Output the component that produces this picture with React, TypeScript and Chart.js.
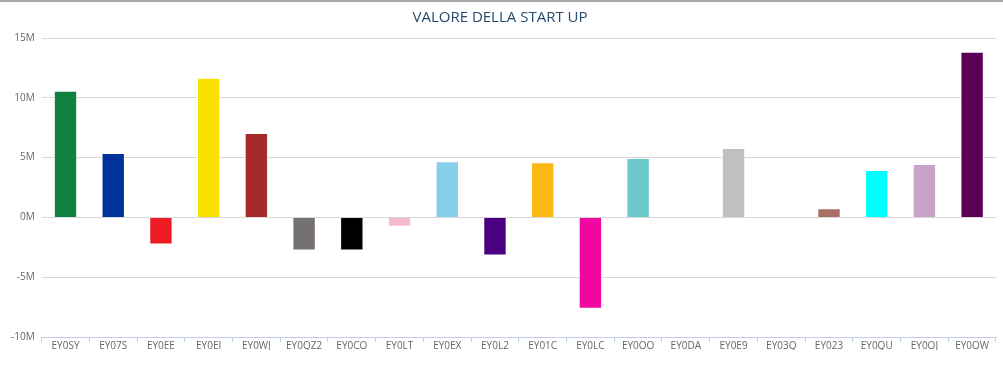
import React, { useEffect, useRef } from "react";
import { Chart, registerables } from "chart.js";

Chart.register(...registerables);

const categories = [
  "EY0SY", "EY07S", "EY0EE", "EY0EI", "EY0WJ", "EY0QZ2", "EY0CO", "EY0LT", "EY0EX", "EY0L2",
  "EY01C", "EY0LC", "EY0OO", "EY0DA", "EY0E9", "EY03Q", "EY023", "EY0QU", "EY0OJ", "EY0OW",
];

const values = [
  10.58, 5.38, -2.26, 11.67, 7.05, -2.77, -2.77, -0.78, 4.7, -3.18,
  4.62, -7.63, 4.97, 0.08, 5.8, 0, 0.77, 3.96, 4.46, 13.85,
].map((v) => v * 1e6);

const barColors = [
  "#0F8140", "#003399", "#ED1C24", "#F9E000", "#A52A2A", "#767171", "#000000", "#F8BBCB", "#87CEEB", "#4B0082",
  "#FDB913", "#F0079F", "#6CCACB", "#F3F3EB", "#C0C0C0", "#999999", "#A67064", "#00FFFF", "#C8A2C8", "#5C0055",
];

const yTicks = [-10, -5, 0, 5, 10, 15];
const title = "VALORE DELLA START UP";

const topLine = {
  id: "topLine",
  afterDraw(chart: any) {
    const ctx = chart.ctx;
    ctx.save();
    ctx.fillStyle = "#aaaaaa";
    ctx.fillRect(0, 0, chart.width, 2);
    ctx.restore();
  },
};

export default function App() {
  const ref = useRef<HTMLCanvasElement>(null);
  useEffect(() => {
    document.body.style.margin = "0";
    const chart = new Chart(ref.current!, {
      type: "bar",
      data: {
        labels: categories,
        datasets: [
          {
            data: values,
            backgroundColor: barColors,
            borderColor: "#ffffff",
            borderWidth: 1,
            categoryPercentage: 1,
            barPercentage: 0.49,
          },
        ],
      },
      plugins: [topLine],
      options: {
        responsive: false,
        animation: false,
        layout: { padding: { left: 4, right: 7, top: 0, bottom: 23 } },
        plugins: {
          legend: { display: false },
          tooltip: { enabled: false },
          title: {
            display: true,
            text: title,
            color: "#274b6d",
            font: { family: "Open Sans", size: 15, weight: "normal" },
            padding: { top: 9, bottom: 11 },
          },
        },
        scales: {
          x: {
            offset: true,
            grid: {
              offset: true,
              drawOnChartArea: false,
              color: "#C0D0E0",
              tickLength: 5,
            },
            border: { color: "#C0D0E0" },
            ticks: {
              color: "#666666",
              font: { family: "Open Sans", size: 10 },
              maxRotation: 0,
              autoSkip: false,
              padding: -2,
            },
          },
          y: {
            min: -10e6,
            max: 15e6,
            afterBuildTicks: (scale: any) => {
              scale.ticks = yTicks.map((v) => ({ value: v * 1e6 }));
            },
            grid: { color: "#D8D8D8", drawTicks: false, lineWidth: 1 },
            border: { display: false },
            ticks: {
              color: "#666666",
              font: { family: "Open Sans", size: 10 },
              padding: 7,
              callback: (v: any) => `${Math.round(Number(v) / 1e6)}M`,
            },
          },
        },
      },
    });
    return () => chart.destroy();
  }, []);
  return (
    <div style={{ width: 1003, height: 373 }}>
      <canvas ref={ref} width={1003} height={373} style={{ display: "block" }} />
    </div>
  );
}
